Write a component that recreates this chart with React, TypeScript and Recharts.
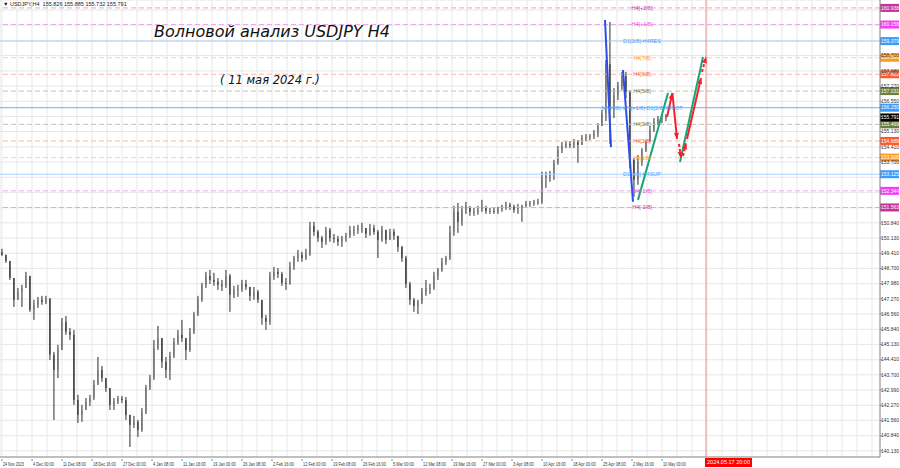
import { ComposedChart, Bar, Line, XAxis, YAxis, CartesianGrid, ReferenceLine, ReferenceDot } from 'recharts'

// H4 candles grouped ~4 bars each (24 Nov 2023 .. 10 May 2024)
const firstOpen = 149.45
const highs = [
  149.62, 149.34, 149.01, 148.16, 147.78, 147.93, 148.54, 148.35, 147.22, 147.36,
  147.41, 147.41, 147.31, 144.78, 145.11, 146.37, 146.47, 145.9, 145.81, 142.76,
  142.29, 142.61, 142.76, 143.46, 144.54, 144.12, 143.55, 143.08, 142.61, 142.71,
  142.71, 142.66, 141.82, 141.77, 141.58, 142.14, 143.23, 143.7, 145.34, 146.0,
  145.43, 144.54, 144.78, 145.43, 145.81, 146.28, 145.34, 145.9, 146.66, 147.41,
  148.02, 148.54, 148.63, 148.49, 148.25, 148.16, 148.63, 148.44, 147.88, 147.93,
  148.16, 148.16, 147.78, 147.83, 147.69, 147.22, 146.52, 148.54, 148.77, 148.72,
  148.54, 148.25, 149.01, 149.29, 149.57, 149.48, 149.62, 150.89, 150.89, 150.51,
  150.23, 150.65, 150.6, 150.32, 150.23, 150.23, 150.37, 150.7, 150.7, 150.75,
  150.84, 150.6, 150.79, 150.75, 150.51, 150.7, 150.51, 150.56, 150.56, 150.23,
  149.76, 149.29, 148.07, 147.31, 147.22, 147.78, 148.16, 147.97, 148.54, 148.72,
  149.19, 149.29, 150.7, 151.64, 151.78, 151.64, 151.83, 151.64, 151.54, 151.64,
  151.92, 151.64, 151.54, 151.54, 151.59, 151.69, 151.83, 151.78, 151.69, 151.73,
  151.69, 151.87, 151.87, 151.92, 151.97, 153.24, 153.24, 153.28, 153.8, 154.45,
  154.64, 154.68, 154.68, 154.78, 154.73, 154.97, 155.01, 155.01, 155.2, 155.53,
  156.14, 158.49, 160.28, 157.17, 157.46, 157.93, 157.93, 157.08, 153.88, 154.03,
  154.35, 154.73, 155.39, 155.76, 155.86, 155.9, 155.95,
]
const lows = [
  149.29, 148.96, 148.16, 146.89, 147.22, 146.89, 147.78, 146.66, 146.28, 146.84,
  146.99, 147.03, 144.4, 141.58, 143.55, 144.87, 145.58, 145.34, 142.29, 141.44,
  141.49, 142.05, 142.24, 142.52, 143.23, 143.37, 142.9, 142.05, 142.05, 142.33,
  142.38, 141.58, 140.31, 141.2, 140.78, 141.02, 141.86, 142.99, 143.46, 144.87,
  144.02, 143.55, 143.46, 144.49, 145.11, 145.25, 144.4, 144.78, 145.62, 146.47,
  147.13, 147.78, 147.97, 147.88, 147.69, 147.64, 147.78, 146.66, 147.31, 147.36,
  147.6, 147.69, 147.17, 147.22, 147.08, 146.05, 145.81, 146.05, 148.16, 148.25,
  147.88, 147.69, 147.93, 148.63, 149.01, 149.01, 149.1, 149.29, 150.23, 149.95,
  149.66, 149.81, 149.95, 149.9, 149.76, 149.71, 149.95, 150.13, 150.23, 150.32,
  150.37, 150.13, 150.23, 150.28, 149.19, 149.95, 149.85, 150.04, 150.04, 149.48,
  149.01, 147.78, 146.99, 146.66, 146.56, 147.03, 147.41, 147.5, 147.69, 148.16,
  148.54, 148.87, 149.1, 150.23, 150.37, 150.7, 151.26, 151.17, 151.17, 151.22,
  151.36, 151.26, 151.26, 151.26, 151.26, 151.36, 151.45, 151.45, 151.31, 151.26,
  150.89, 151.59, 151.59, 151.64, 151.69, 151.73, 152.48, 152.77, 152.86, 153.57,
  154.12, 154.35, 154.35, 154.35, 153.66, 154.5, 154.68, 154.73, 154.78, 154.87,
  155.44, 155.62, 154.55, 155.76, 156.61, 157.08, 156.7, 153.42, 152.06, 152.63,
  153.52, 154.17, 154.64, 155.11, 155.44, 155.53, 155.62,
]
const closes = [
  149.34, 149.05, 148.25, 147.22, 147.6, 147.78, 148.35, 146.75, 146.99, 147.22,
  147.13, 147.27, 144.64, 143.93, 144.87, 146.19, 145.72, 145.58, 142.52, 141.82,
  142.05, 142.43, 142.61, 143.23, 143.93, 143.55, 143.08, 142.29, 142.47, 142.57,
  142.52, 141.82, 141.35, 141.49, 141.11, 141.96, 143.08, 143.55, 144.96, 145.43,
  144.31, 143.93, 144.59, 145.25, 145.58, 145.43, 144.87, 145.72, 146.52, 147.22,
  147.93, 148.35, 148.16, 148.07, 147.93, 147.88, 148.35, 147.46, 147.69, 147.74,
  147.97, 147.83, 147.41, 147.6, 147.22, 146.37, 146.19, 148.35, 148.54, 148.44,
  148.02, 147.97, 148.82, 149.19, 149.34, 149.19, 149.38, 150.7, 150.42, 150.13,
  149.95, 150.51, 150.13, 150.09, 149.95, 150.13, 150.23, 150.51, 150.51, 150.6,
  150.6, 150.32, 150.6, 150.42, 150.04, 150.51, 150.04, 150.42, 150.23, 149.71,
  149.19, 147.97, 147.22, 146.94, 147.13, 147.6, 147.78, 147.78, 148.35, 148.63,
  149.01, 149.19, 150.42, 151.36, 150.89, 151.45, 151.59, 151.36, 151.36, 151.45,
  151.54, 151.4, 151.4, 151.36, 151.45, 151.64, 151.69, 151.59, 151.45, 151.54,
  151.64, 151.73, 151.78, 151.78, 151.83, 152.95, 153.05, 153.1, 153.66, 154.26,
  154.45, 154.54, 154.5, 154.64, 154.5, 154.82, 154.87, 154.92, 155.06, 155.39,
  155.95, 158.3, 156.14, 156.85, 157.27, 157.74, 156.99, 153.8, 152.86, 153.71,
  154.26, 154.64, 155.2, 155.58, 155.72, 155.76, 155.79,
]

const dateLabels = [
  '24 Nov 2023', '4 Dec 00:00', '11 Dec 08:00', '18 Dec 16:00', '27 Dec 00:00', '4 Jan 08:00',
  '11 Jan 16:00', '19 Jan 00:00', '26 Jan 08:00', '2 Feb 16:00', '12 Feb 00:00', '19 Feb 08:00',
  '26 Feb 16:00', '5 Mar 00:00', '12 Mar 08:00', '19 Mar 16:00', '27 Mar 00:00', '3 Apr 08:00',
  '10 Apr 16:00', '18 Apr 00:00', '25 Apr 08:00', '2 May 16:00', '10 May 00:00',
]
const markerLabel = '2024.05.17 20:00'

const yTicks = [
  140.13, 140.84, 141.56, 142.27, 142.99, 143.7, 144.41, 145.13, 145.84, 146.56,
  147.27, 147.98, 148.7, 149.41, 150.13, 150.84, 151.55, 152.27, 152.98, 153.7,
  154.41, 155.13, 155.84, 156.55, 157.27, 157.98, 158.7, 159.41, 160.13, 160.84,
]
const shownTicks = [
  140.13, 140.84, 141.56, 142.27, 142.99, 143.7, 144.41, 145.13, 145.84, 146.56,
  147.27, 147.98, 148.7, 149.41, 150.13, 150.84, 153.7, 154.41, 155.13, 156.55,
  157.27, 157.98, 158.7,
]

// Murray levels
const levelPrices = [160.938, 160.158, 159.379, 158.599, 157.822, 157.031, 156.25, 155.469, 154.688, 153.906, 153.125, 152.344, 151.563]
const levelNames = [
  'H4[+2/8]', 'H4[+1/8]', 'D1[3/8]-H4RES', 'H4[7/8]', 'H4[6/8]', 'H4[5/8]',
  'MN[4/8]-W1[+1/8]-D1[2/8]-PIVOT', 'H4[3/8]', 'H4[2/8]', 'H4[1/8]', 'D1[1/8]-H4SUP', 'H4[-1/8]', 'H4[-2/8]',
]
const levelKinds = ['ext2', 'ext1', 'd1', 'o', 'r', 'g', 'pivot', 'g', 'r', 'o', 'd1', 'ext1', 'ext2']
const lastPrice = 155.791

// wave markup (u = bar slot, p = price)
const blueWaves = [
  [{ u: 150.75, p: 160.37 }, { u: 152.25, p: 154.4 }],
  [{ u: 155.25, p: 158.02 }, { u: 157.75, p: 151.83 }],
]
const greenWaves = [
  [{ u: 159, p: 151.92 }, { u: 166.5, p: 156.94 }],
  [{ u: 169.5, p: 153.7 }, { u: 175.25, p: 158.63 }],
]
const redWaves = [
  { dashed: false, pts: [{ u: 166.25, p: 155.81 }, { u: 167.6, p: 156.94 }] },
  { dashed: false, pts: [{ u: 167.6, p: 156.94 }, { u: 168.75, p: 154.78 }] },
  { dashed: true, pts: [{ u: 169.25, p: 154.55 }, { u: 169.75, p: 153.89 }] },
  { dashed: true, pts: [{ u: 170.25, p: 153.98 }, { u: 171, p: 154.59 }] },
  { dashed: false, pts: [{ u: 171.25, p: 154.78 }, { u: 174.75, p: 157.65 }] },
  { dashed: true, pts: [{ u: 175, p: 157.93 }, { u: 176, p: 158.63 }] },
]

const markerBar = 176
const labelBar = 160

const kindStyle: Record<string, { line: string; dash?: string; box: string; text: string }> = {
  ext2: { line: '#eba3d6', dash: '5 3', box: '#c2349a', text: '#c2349a' },
  ext1: { line: '#f7a3f7', dash: '5 3', box: '#f53ef5', text: '#e94be9' },
  d1: { line: '#a9d3ff', box: '#3b9cff', text: '#4a9ff5' },
  o: { line: '#ffd1a6', dash: '5 3', box: '#ff9a1c', text: '#ff9a1c' },
  r: { line: '#ffb3a3', dash: '5 3', box: '#ff5a2c', text: '#ff5a2c' },
  g: { line: '#c4c4ae', dash: '5 3', box: '#6b7d3f', text: '#6b7d3f' },
  pivot: { line: '#72aaff', box: '#3b9cff', text: '#4a9ff5' },
}

const axisFont = "'Liberation Sans', Arial, sans-serif"

const candles = closes.map((c, i) => {
  const o = i === 0 ? firstOpen : closes[i - 1]
  return { u: i, o, h: highs[i], l: lows[i], c, range: [Math.min(lows[i], o, c), Math.max(highs[i], o, c)] }
})

const gridTicks = Array.from({ length: 59 }, (_, k) => k * 3.75)

const Candle = (props: any) => {
  const { x, y, width, height, payload } = props
  if (!payload) return <g />
  const top = Math.min(y, y + height)
  const h = Math.abs(height)
  const hi = Math.max(payload.h, payload.o, payload.c)
  const lo = Math.min(payload.l, payload.o, payload.c)
  const toY = (v: number) => top + ((hi - v) / (hi - lo || 1)) * h
  const cx = x + width / 2
  const yo = toY(payload.o)
  const yc = toY(payload.c)
  const up = payload.c >= payload.o
  return (
    <g>
      <line x1={cx} x2={cx} y1={top} y2={top + h} stroke="#2c2c2c" strokeWidth={1} />
      <rect x={x} y={Math.min(yo, yc)} width={width} height={Math.max(1, Math.abs(yc - yo))} fill={up ? '#6e6e6e' : '#161616'} />
    </g>
  )
}

const PriceTick = (props: any) => {
  const { x, y, payload } = props
  if (!shownTicks.includes(payload.value)) return <g />
  return (
    <text x={x - 1} y={y} dy="0.35em" fontSize={5} fill="#333" fontFamily={axisFont}>
      {payload.value.toFixed(3)}
    </text>
  )
}

const DateTick = (props: any) => {
  const { x, y, payload } = props
  const k = Math.round(payload.value / 7.5)
  if (Math.abs(payload.value - k * 7.5) > 0.01 || k >= dateLabels.length) return <g />
  const label = dateLabels[k]
  return (
    <g>
      <line x1={x} x2={x} y1={y} y2={y + 2} stroke="#888" />
      <text x={x + 1} y={y + 7} fontSize={5.5} fill="#333" fontFamily={axisFont} textLength={label.length * 1.9} lengthAdjust="spacingAndGlyphs">
        {label}
      </text>
    </g>
  )
}

const LevelBox = (props: any) => {
  const { viewBox, price, color } = props
  if (!viewBox) return <g />
  const rx = viewBox.x + viewBox.width
  return (
    <g>
      <rect x={rx} y={viewBox.y - 4} width={19} height={8} fill={color} />
      <text x={rx + 1} y={viewBox.y} dy="0.35em" fontSize={5} fill="#fff" fontFamily={axisFont}>
        {price.toFixed(3)}
      </text>
    </g>
  )
}

const MarkerBox = (props: any) => {
  const { viewBox } = props
  if (!viewBox) return <g />
  const by = viewBox.y + viewBox.height
  return (
    <g>
      <rect x={viewBox.x - 1} y={by + 1} width={47} height={9} fill="#f00" />
      <text x={viewBox.x + 1} y={by + 5.5} dy="0.35em" fontSize={5.5} fill="#fff" fontFamily={axisFont} textLength={43} lengthAdjust="spacingAndGlyphs">
        {markerLabel}
      </text>
    </g>
  )
}

const arrowHead = (color: string) => (props: any) => {
  const { cx, cy, index, points } = props
  if (!points || index !== points.length - 1 || index === 0) return <g key={`d${index}`} />
  const prev = points[index - 1]
  const ang = Math.atan2(cy - prev.y, cx - prev.x)
  const cs = Math.cos(ang)
  const sn = Math.sin(ang)
  const bx = cx - 6 * cs
  const by = cy - 6 * sn
  const pts = `${cx},${cy} ${bx - 2.6 * sn},${by + 2.6 * cs} ${bx + 2.6 * sn},${by - 2.6 * cs}`
  return <polygon key={`d${index}`} points={pts} fill={color} />
}

export default function App() {
  return (
    <div style={{ position: 'absolute', left: 0, top: 0, width: 900, height: 468, background: '#fff', overflow: 'hidden' }}>
      <ComposedChart width={900} height={468} data={candles} margin={{ top: 0, right: 0, bottom: 0, left: 0 }}>
        <CartesianGrid stroke="#e7e7e7" strokeWidth={1} />
        <XAxis
          dataKey="u"
          type="number"
          domain={[-0.5, 219.5]}
          allowDataOverflow
          ticks={gridTicks}
          interval={0}
          height={11}
          tickSize={0}
          tickLine={false}
          axisLine={{ stroke: '#8c8c8c' }}
          tick={<DateTick />}
        />
        <YAxis
          orientation="right"
          type="number"
          domain={[139.84, 161.31]}
          allowDataOverflow
          ticks={yTicks}
          interval={0}
          width={20}
          tickSize={2}
          tickMargin={0}
          tickLine={{ stroke: '#8c8c8c' }}
          axisLine={{ stroke: '#8c8c8c' }}
          tick={<PriceTick />}
        />
        {levelPrices.map((p, i) => {
          const st = kindStyle[levelKinds[i]]
          return (
            <ReferenceLine
              key={`lv${i}`}
              y={p}
              stroke={st.line}
              strokeWidth={1}
              strokeDasharray={st.dash}
              label={<LevelBox price={p} color={st.box} />}
            />
          )
        })}
        <ReferenceLine y={lastPrice} stroke="none" label={<LevelBox price={lastPrice} color="#000" />} />
        <ReferenceLine x={markerBar} stroke="#f28b8b" strokeWidth={1} label={<MarkerBox />} />
        <Bar dataKey="range" barSize={3} shape={<Candle />} isAnimationActive={false} />
        {blueWaves.map((seg, i) => (
          <Line key={`b${i}`} data={seg} dataKey="p" type="linear" stroke="#2a4fe8" strokeWidth={2} dot={false} activeDot={false} isAnimationActive={false} />
        ))}
        {greenWaves.map((seg, i) => (
          <Line key={`g${i}`} data={seg} dataKey="p" type="linear" stroke="#12a878" strokeWidth={2} dot={false} activeDot={false} isAnimationActive={false} />
        ))}
        {redWaves.map((w, i) => (
          <Line
            key={`r${i}`}
            data={w.pts}
            dataKey="p"
            type="linear"
            stroke="#f5222d"
            strokeWidth={2}
            strokeDasharray={w.dashed ? '3 2' : undefined}
            dot={arrowHead('#f5222d')}
            activeDot={false}
            isAnimationActive={false}
          />
        ))}
        {levelPrices.map((p, i) => {
          const st = kindStyle[levelKinds[i]]
          return (
            <ReferenceDot
              key={`lt${i}`}
              x={labelBar}
              y={p}
              r={0}
              ifOverflow="visible"
              shape={(sp: any) => (
                <text x={sp.cx} y={sp.cy} dy="0.35em" textAnchor="middle" fontSize={5.5} fill={st.text} fontFamily={axisFont}>
                  {levelNames[i]}
                </text>
              )}
            />
          )
        })}
      </ComposedChart>
      <div style={{ position: 'absolute', left: 3, top: 1, fontSize: 5.5, color: '#222', fontFamily: axisFont, whiteSpace: 'pre' }}>
        {'▼ USDJPY,H4  155.826 155.885 155.732 155.791'}
      </div>
      <div style={{ position: 'absolute', left: 154, top: 22, fontSize: 16, fontStyle: 'italic', color: '#111', fontFamily: "'DejaVu Sans', sans-serif", whiteSpace: 'pre' }}>
        Волновой анализ USDJPY H4
      </div>
      <div style={{ position: 'absolute', left: 220, top: 73, fontSize: 11.5, fontStyle: 'italic', color: '#111', fontFamily: "'DejaVu Sans', sans-serif", whiteSpace: 'pre' }}>
        ( 11 мая 2024 г.)
      </div>
    </div>
  )
}
